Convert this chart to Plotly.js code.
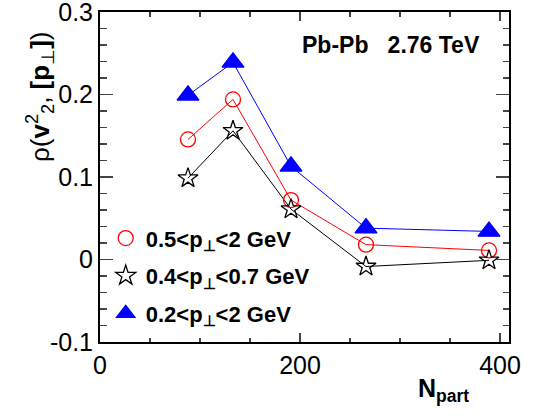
<!DOCTYPE html>
<html>
<head>
<meta charset="utf-8">
<script src="https://cdn.plot.ly/plotly-3.0.1.min.js"></script>
<style>html,body{margin:0;padding:0;background:#fff;}#chart{width:537px;height:417px;}</style>
</head>
<body>
<div id="chart"></div>
<script>
const nPart = [88, 133, 191, 266, 389];
const rhoPt05to2 = [0.1455, 0.194, 0.072, 0.018, 0.011];
const rhoPt04to07 = [0.0986, 0.156, 0.061, -0.0085, -0.001];
const rhoPt02to2 = [0.199, 0.239, 0.113, 0.038, 0.034];
const seriesNames = ['0.5<p<sub>⊥</sub><2 GeV', '0.4<p<sub>⊥</sub><0.7 GeV', '0.2<p<sub>⊥</sub><2 GeV'];
const yTickVals = [-0.1, 0, 0.1, 0.2, 0.3];
const yTickText = ['-0.1', '0', '0.1', '0.2', '0.3'];
const xTickVals = [0, 200, 400];
const xTickText = ['0', '200', '400'];

const series = [
  {y: rhoPt05to2, name: seriesNames[0], color: '#ff0000', symbol: 'circle-open', size: 15},
  {y: rhoPt04to07, name: seriesNames[1], color: '#000000', symbol: 'star-open', size: 15},
  {y: rhoPt02to2, name: seriesNames[2], color: '#0000ff', symbol: 'triangle-up', size: 19}
];

const traces = [];
series.forEach(s => {
  traces.push({x: nPart, y: s.y, mode: 'lines', line: {color: s.color, width: 1}, showlegend: false, hoverinfo: 'skip'});
});
series.forEach((s, i) => {
  traces.push({x: nPart, y: s.y, mode: 'markers', name: s.name, legendgroup: 'g' + i,
    marker: {symbol: s.symbol, size: s.size, color: s.color, line: {color: s.color, width: 1.3}}});
});

const layout = {
  width: 537, height: 417,
  margin: {l: 100, r: 28, t: 12, b: 75, pad: 0},
  paper_bgcolor: '#fff', plot_bgcolor: '#fff',
  font: {family: 'Liberation Sans, Arial, sans-serif', color: '#000'},
  showlegend: true,
  legend: {x: 0.014, y: 0.378, xanchor: 'left', yanchor: 'top', bgcolor: 'rgba(0,0,0,0)',
    font: {size: 22, weight: 'bold', family: 'Liberation Sans, Arial, sans-serif'}, tracegroupgap: 6, traceorder: 'grouped'},
  xaxis: {range: [0, 409], tickvals: xTickVals, ticktext: xTickText, ticks: 'inside', ticklen: 9, tickwidth: 1.5,
    showline: true, linewidth: 2, linecolor: '#000', mirror: 'ticks', showgrid: false, zeroline: false,
    ticklabeloverflow: 'allow',
    tickfont: {size: 25}, minor: {dtick: 50, tick0: 0, ticks: 'inside', ticklen: 4.5, tickwidth: 1.5, showgrid: false}},
  yaxis: {range: [-0.1000001, 0.3000001], tickvals: yTickVals, ticktext: yTickText, ticks: 'inside', ticklen: 13, tickwidth: 1.5,
    showline: true, linewidth: 2, linecolor: '#000', mirror: 'ticks', showgrid: false, zeroline: false,
    ticklabeloverflow: 'allow',
    tickfont: {size: 25}, minor: {dtick: 0.02, tick0: 0, ticks: 'inside', ticklen: 6.5, tickwidth: 1.5, showgrid: false}},
  annotations: [
    {xref: 'paper', yref: 'paper', x: 0.711, y: 0.9, xanchor: 'center', yanchor: 'middle', showarrow: false,
     text: '<b>Pb-Pb\u00a0\u00a0\u00a02.76 TeV</b>', font: {size: 23}},
    {xref: 'paper', yref: 'paper', x: -0.147, y: 0.745, xanchor: 'center', yanchor: 'middle', showarrow: false, textangle: -90,
     text: 'ρ(<b>v</b><sup>2</sup><sub>2</sub>, <b>[p</b><sub>⊥</sub><b>]</b>)', font: {size: 26}},
    {xref: 'paper', yref: 'paper', x: 0.84, y: -0.145, xanchor: 'center', yanchor: 'middle', showarrow: false,
     text: '<b>N<sub>part</sub></b>', font: {size: 25}}
  ]
};

Plotly.newPlot('chart', traces, layout, {displayModeBar: false, staticPlot: true});
</script>
</body>
</html>
